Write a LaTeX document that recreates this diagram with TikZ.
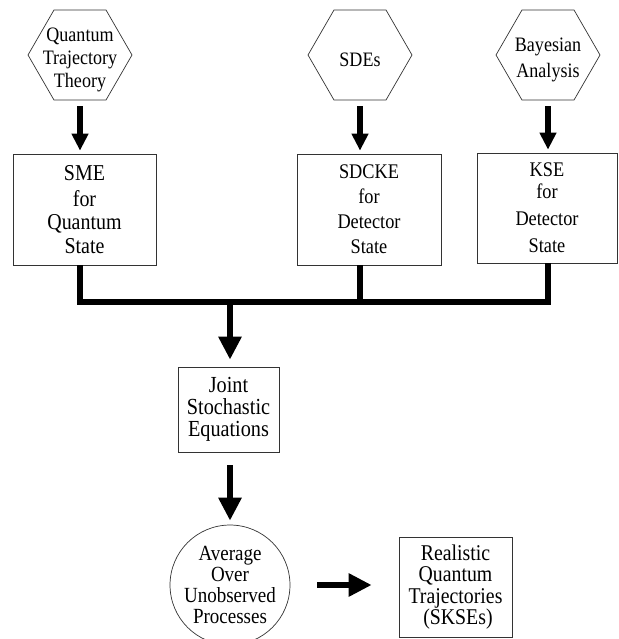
\documentclass[tikz,border=0pt]{standalone}
\usepackage{fontspec}
\setmainfont{Liberation Serif}[FakeStretch=0.88]
\usetikzlibrary{%
  arrows.meta,%
  shapes.geometric,% regular polygon
  positioning%
}

\begin{document}
\begin{tikzpicture}[
    x=1pt, y=-1pt,
    hexa/.style={regular polygon, regular polygon sides=6, draw=black!80,
      line width=.7pt, minimum size=104pt, inner sep=0pt},
    hexatext/.style={align=center, font=\fontsize{20.5}{23}\selectfont},
    blk/.style={rectangle, draw=black!80, line width=.7pt, align=center,
      font=\fontsize{22.7}{23.5}\selectfont, inner sep=0pt},
    wire/.style={line width=6pt},
    tip/.style={line width=6pt, -{Triangle[width=16pt,length=17pt]}},
    bigtip/.style={line width=6pt, -{Triangle[width=22pt,length=23pt]}}
  ]
  \useasboundingbox (0,0) rectangle (618,639);

  % sources
  \node[hexa] at (80,55) (qtt) {};
  \node[hexatext] at (80,60) {Quantum\\Trajectory\\Theory};
  \node[hexa] at (360,55) (sdes) {};
  \node[hexatext] at (360,60) {SDEs};
  \node[hexa] at (548,55) (bayes) {};
  \node[hexatext] at (548,60) {Bayesian\\[3pt]Analysis};

  % equations
  \node[blk, minimum width=143pt, minimum height=111pt] at (84.5,209.5) (sme)
    {SME\\[2pt]for\\Quantum\\State};
  \node[blk, minimum width=144pt, minimum height=111pt,
    font=\fontsize{20.8}{25}\selectfont] at (369,209.5) (sdcke)
    {SDCKE\\for\\Detector\\State};
  \node[blk, minimum width=140pt, minimum height=110pt,
    font=\fontsize{20.8}{25}\selectfont] at (547,208) (kse)
    {KSE\\[-3pt]for\\[2pt]Detector\\[2pt]State};

  \node[blk, minimum width=101pt, minimum height=85pt,
    font=\fontsize{23}{22}\selectfont] at (228.5,409.5) (joint)
    {Joint\\Stochastic\\Equations};
  \node[circle, draw=black!80, line width=.7pt, minimum size=116pt, inner sep=0pt,
    align=center, font=\fontsize{21.6}{21}\selectfont] at (230,585) (avg)
    {Average\\Over\\Unobserved\\Processes};
  \node[blk, minimum width=113pt, minimum height=100pt,
    font=\fontsize{22.5}{21.5}\selectfont] at (455.5,587) (real)
    {Realistic\\Quantum\\Trajectories\\\ (SKSEs)};

  % connections
  \foreach \src/\dst in {qtt/sme, sdes/sdcke, bayes/kse}{
    \draw[tip, shorten <=6pt, shorten >=3pt] (\src.south) -- (\src.south |- \dst.north);}
  \coordinate (split) at (230,302);
  \draw[wire] (qtt |- sme.south) -- (qtt |- split) -- (bayes |- split)
    -- (bayes |- kse.south);
  \draw[wire] (sdes |- sdcke.south) -- (sdes |- split);
  \draw[bigtip, shorten >=7pt] (split) -- (split |- joint.north);
  \draw[bigtip, shorten <=13pt, shorten >=4pt] (split |- joint.south) -- (avg.north);
  \draw[bigtip, shorten <=27pt, shorten >=27pt] (avg.east) -- (avg.east -| real.west);
\end{tikzpicture}
\end{document}
